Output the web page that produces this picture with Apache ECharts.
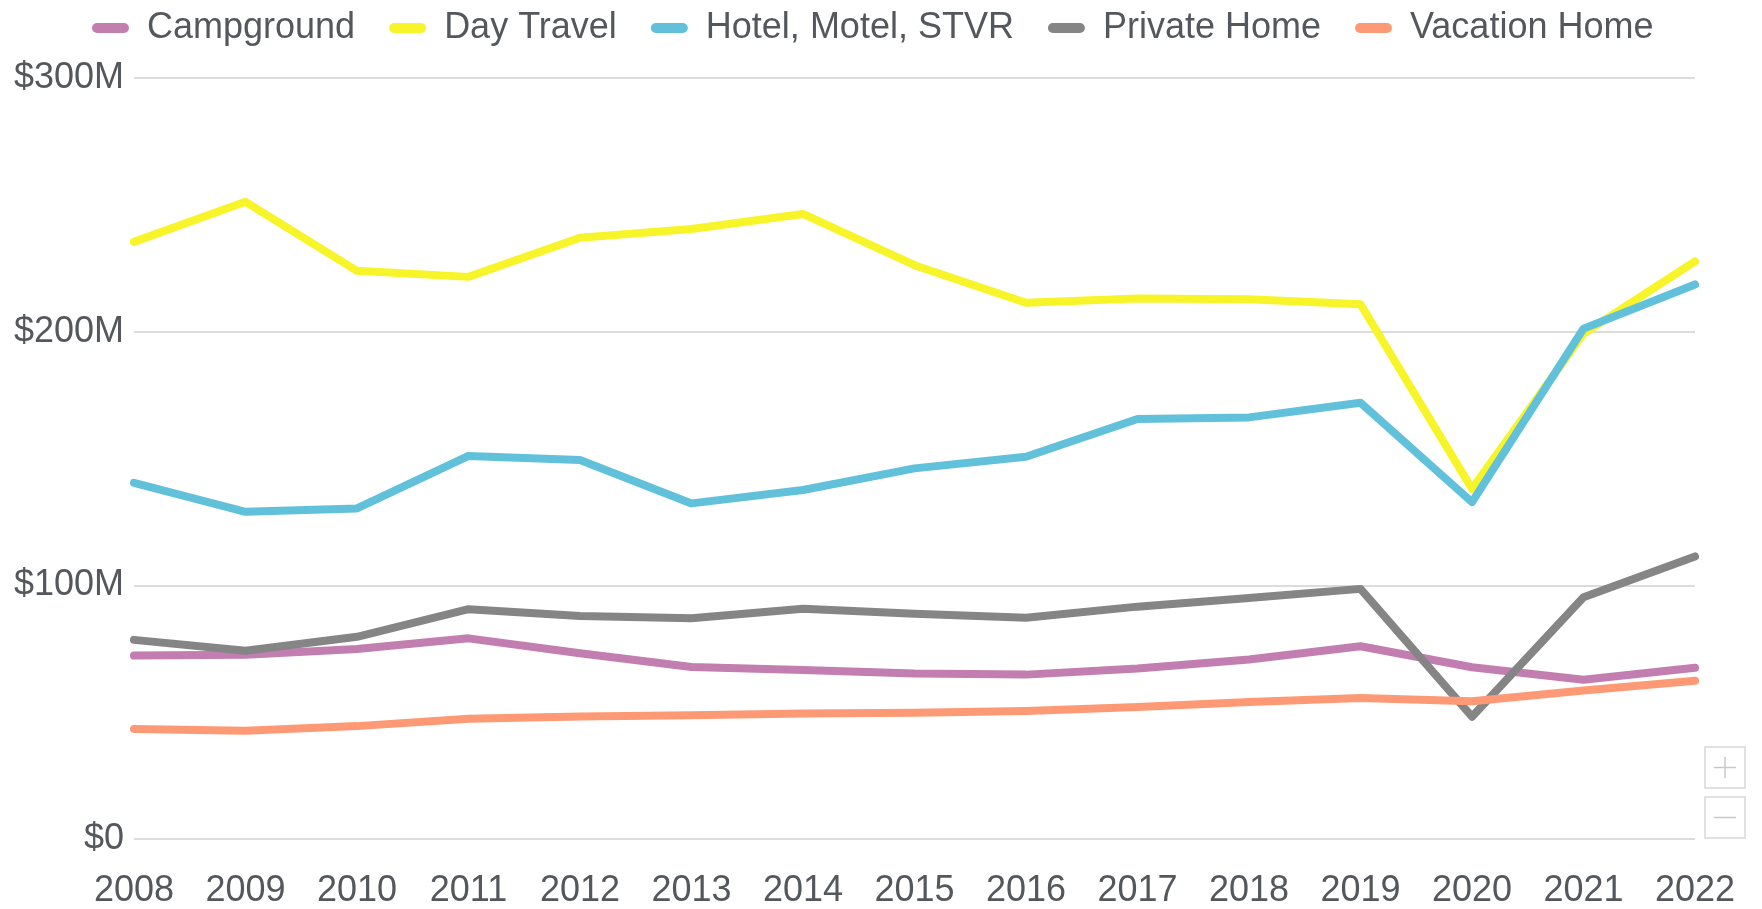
<!DOCTYPE html>
<html>
<head>
<meta charset="utf-8">
<script src="https://cdn.jsdelivr.net/npm/echarts@6/dist/echarts.min.js"></script>
<style>
html,body{margin:0;padding:0;background:#fff;}
#chart{width:1762px;height:909px;}
</style>
</head>
<body>
<div id="chart"></div>
<script>
const years = ['2008','2009','2010','2011','2012','2013','2014','2015','2016','2017','2018','2019','2020','2021','2022'];
const seriesNames = ['Campground','Day Travel','Hotel, Motel, STVR','Private Home','Vacation Home'];
const campground = [72.3, 72.6, 74.9, 79.1, 73.2, 67.8, 66.6, 65.2, 64.8, 67.2, 70.8, 76.0, 67.7, 62.8, 67.5];
const dayTravel = [235.4, 251.2, 224.0, 221.6, 237.0, 240.5, 246.4, 226.2, 211.4, 213.1, 212.8, 210.8, 138.0, 199.2, 227.7];
const hotel = [140.4, 129.0, 130.3, 151.0, 149.4, 132.3, 137.6, 146.1, 150.7, 165.6, 166.2, 172.0, 132.8, 201.2, 218.6];
const privateHome = [78.5, 74.2, 79.7, 90.6, 87.9, 87.0, 90.8, 88.8, 87.2, 91.6, 95.0, 98.6, 48.2, 95.3, 111.4];
const vacationHome = [43.4, 42.7, 44.5, 47.4, 48.3, 48.8, 49.5, 49.8, 50.5, 52.0, 54.0, 55.6, 54.3, 58.5, 62.4];
const colors = ['#c27eb0', '#f7f42a', '#62c1da', '#858585', '#fd9a75'];
const yTicks = { min: 0, max: 300, interval: 100 };

const FONT = '"Liberation Sans", Arial, sans-serif';
const TXT = '#54585c';
const allData = [campground, dayTravel, hotel, privateHome, vacationHome];

const chart = echarts.init(document.getElementById('chart'));
chart.setOption({
  animation: false,
  color: colors,
  textStyle: { fontFamily: FONT },
  legend: {
    left: 92, top: 10, padding: 0,
    itemWidth: 37, itemHeight: 10, itemGap: 34,
    icon: 'path://M5,0 L32,0 A5,5 0 0 1 32,10 L5,10 A5,5 0 0 1 5,0 Z',
    textStyle: { fontSize: 36, color: TXT, fontFamily: FONT, padding: [0, 0, 0, 13] },
    data: seriesNames
  },
  grid: { left: 134, right: 67, top: 78, bottom: 70, containLabel: false, outerBoundsMode: 'none' },
  xAxis: {
    type: 'category', data: years, boundaryGap: false,
    axisLine: { show: false }, axisTick: { show: false },
    axisLabel: { fontSize: 36, color: TXT, fontFamily: FONT, margin: 34, interval: 0 }
  },
  yAxis: {
    type: 'value', min: yTicks.min, max: yTicks.max, interval: yTicks.interval,
    axisLine: { show: false }, axisTick: { show: false },
    splitLine: { lineStyle: { color: '#dcdcdc', width: 2 } },
    axisLabel: {
      fontSize: 36, color: TXT, fontFamily: FONT, margin: 10,
      formatter: v => v === 0 ? '$0' : '$' + v + 'M'
    }
  },
  series: seriesNames.map((n, i) => ({
    name: n, type: 'line', data: allData[i],
    showSymbol: false, symbol: 'none',
    lineStyle: { width: 8, cap: 'round', join: 'round', color: colors[i] },
    itemStyle: { color: colors[i] }
  })),
  graphic: [
    { type: 'rect', shape: { x: 1705, y: 747, width: 40, height: 41 }, style: { fill: '#fff', stroke: '#d8d8d8', lineWidth: 1.5 } },
    { type: 'line', shape: { x1: 1714, y1: 767.5, x2: 1736, y2: 767.5 }, style: { stroke: '#c8c8c8', lineWidth: 1.5 } },
    { type: 'line', shape: { x1: 1725, y1: 757, x2: 1725, y2: 778 }, style: { stroke: '#c8c8c8', lineWidth: 1.5 } },
    { type: 'rect', shape: { x: 1705, y: 797, width: 40, height: 41 }, style: { fill: '#fff', stroke: '#d8d8d8', lineWidth: 1.5 } },
    { type: 'line', shape: { x1: 1714, y1: 817.5, x2: 1736, y2: 817.5 }, style: { stroke: '#c8c8c8', lineWidth: 1.5 } }
  ]
});
</script>
</body>
</html>
